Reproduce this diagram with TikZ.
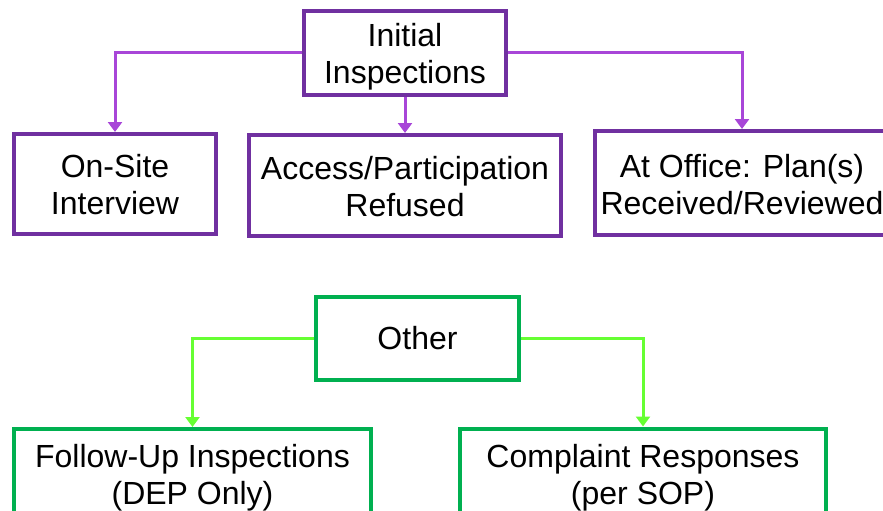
\documentclass[tikz,border=0pt]{standalone}
\usepackage{fontspec}
\setmainfont{Liberation Sans}
\usetikzlibrary{arrows.meta}
\definecolor{pborder}{HTML}{7030A0}
\definecolor{pline}{HTML}{A846D8}
\definecolor{gborder}{HTML}{00B050}
\definecolor{gline}{HTML}{66FF33}
\begin{document}
\begin{tikzpicture}[x=1pt,y=-1pt,
  tstyle/.style={align=center, inner sep=0pt, font=\fontsize{32}{37}\selectfont},
  txt/.style 2 args={label={[tstyle, yshift=#1]center:{#2}}},
  box/.style={draw, line width=4pt, fill=white, inner sep=0pt},
  pbox/.style={box, draw=pborder},
  gbox/.style={box, draw=gborder},
  conn/.style={line width=3pt, -{Triangle[width=14pt,length=10pt]}}]
\useasboundingbox (0,0) rectangle (883,511);
\clip (0,0) rectangle (883,511);
\node[pbox, minimum width=202pt, minimum height=84pt, txt={-4pt}{Initial\\Inspections}] (init) at (405,53) {};
\node[pbox, minimum width=202pt, minimum height=100pt, txt={-1pt}{On-Site\\Interview}] (onsite) at (115,184) {};
\node[pbox, minimum width=312pt, minimum height=101pt, txt={-1pt}{Access/Participation\\Refused}] (access) at (405,185.5) {};
\node[pbox, minimum width=294pt, minimum height=104pt, txt={-2pt}{At Office: Plan(s)\\Received/Reviewed}] (office) at (742,183) {};
\node[gbox, minimum width=203pt, minimum height=83pt, txt={0pt}{Other}] (other) at (417.5,338.5) {};
\node[gbox, minimum width=357pt, minimum height=90pt, txt={-3.5pt}{Follow-Up Inspections\\(DEP Only)}] (follow) at (192.5,474) {};
\node[gbox, minimum width=366pt, minimum height=91pt, txt={-3.5pt}{Complaint Responses\\(per SOP)}] (complaint) at (643,474) {};
\draw[conn, pline] (init.west) -| (onsite.north);
\draw[conn, pline] (init.south) -- (access.north);
\draw[conn, pline] (init.east) -| (office.north);
\draw[conn, gline] (other.west) -| (follow.north);
\draw[conn, gline] (other.east) -| (complaint.north);
\end{tikzpicture}
\end{document}
